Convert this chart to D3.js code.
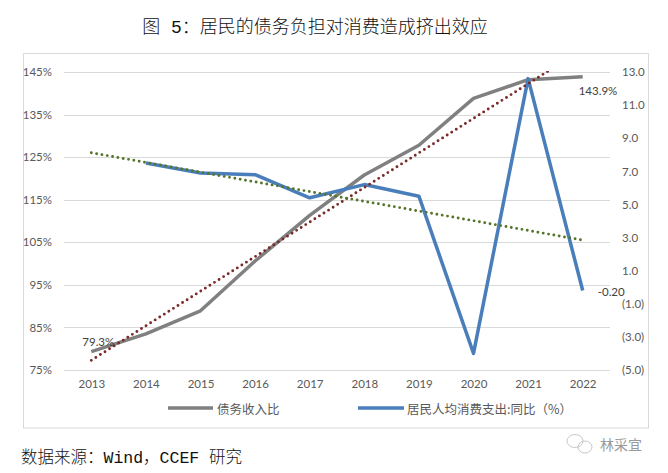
<!DOCTYPE html>
<html><head><meta charset="utf-8">
<script src="https://cdn.jsdelivr.net/npm/d3@7/dist/d3.min.js"></script>
<style>
body{margin:0;background:#fff;}
svg{display:block;}
</style></head>
<body>
<svg id="c" width="668" height="473"></svg>
<script>
const years = ["2013","2014","2015","2016","2017","2018","2019","2020","2021","2022"];
const debtRatio = [79.3, 83.5, 88.9, 100.6, 111.3, 120.8, 127.8, 138.8, 143.2, 143.9];
const consGrowth = [null, 7.5, 6.9, 6.8, 5.4, 6.2, 5.5, -4.0, 12.6, -0.2];
const leftTicks = [75, 85, 95, 105, 115, 125, 135, 145];
const rightTicks = [-5, -3, -1, 1, 3, 5, 7, 9, 11, 13];
const seriesNames = ["债务收入比", "居民人均消费支出:同比（%）"];
const titleText = "图 5：居民的债务负担对消费造成挤出效应";
const sourceText = "数据来源：Wind，CCEF 研究";
const markText = "林采宜";

const svg = d3.select("#c");
const tickFont = "Lato, 'Noto Sans CJK SC', sans-serif";
const cjkFont = "'Liberation Mono', 'Noto Sans CJK SC', monospace";
const textCol = "#595959";

const x = d3.scalePoint().domain(years).range([64, 610]).padding(0.5);
const yL = d3.scaleLinear().domain([75, 145]).range([370, 72]);
const yR = d3.scaleLinear().domain([-5, 13]).range([370, 72]);

// title
svg.append("text").attr("x", 315).attr("y", 28).attr("text-anchor", "middle")
  .attr("dominant-baseline", "central").attr("font-family", cjkFont)
  .attr("font-size", 18).attr("font-weight", 300).attr("fill", "#111").text(titleText);

// chart border
svg.append("rect").attr("x", 23.5).attr("y", 53.5).attr("width", 625).attr("height", 374.5)
  .attr("fill", "none").attr("stroke", "#d9d9d9").attr("stroke-width", 1);

// gridlines
svg.append("g").selectAll("line").data(leftTicks).join("line")
  .attr("x1", 64).attr("x2", 610)
  .attr("y1", d => Math.round(yL(d)) + 0.5).attr("y2", d => Math.round(yL(d)) + 0.5)
  .attr("stroke", "#d9d9d9").attr("stroke-width", 1);

// left axis
const axL = svg.append("g").attr("transform", "translate(64,0)")
  .call(d3.axisLeft(yL).tickValues(leftTicks).tickSize(0).tickPadding(12).tickFormat(d => d + "%"));
axL.select(".domain").remove();
axL.selectAll("text").attr("font-family", tickFont).attr("font-size", 11.5).attr("fill", textCol);

// right axis
const axR = svg.append("g").attr("transform", "translate(622,0)")
  .call(d3.axisRight(yR).tickValues(rightTicks).tickSize(0).tickPadding(0)
    .tickFormat(d => d < 0 ? "(" + Math.abs(d).toFixed(1) + ")" : d.toFixed(1)));
axR.select(".domain").remove();
axR.selectAll("text").attr("font-family", tickFont).attr("font-size", 11.5).attr("fill", textCol);

// x axis
const axX = svg.append("g").attr("transform", "translate(0,378)")
  .call(d3.axisBottom(x).tickSize(0).tickPadding(2));
axX.select(".domain").remove();
axX.selectAll("text").attr("font-family", tickFont).attr("font-size", 11.5).attr("fill", textCol);

// clip
svg.append("clipPath").attr("id", "plotclip").append("rect")
  .attr("x", 64).attr("y", 71).attr("width", 546).attr("height", 300);

// series lines
const lineL = d3.line().x((d, i) => x(years[i])).y(d => yL(d));
const lineR = d3.line().defined(d => d !== null).x((d, i) => x(years[i])).y(d => yR(d));

svg.append("path").datum(debtRatio).attr("d", lineL)
  .attr("fill", "none").attr("stroke", "#808080").attr("stroke-width", 3.5).attr("stroke-linejoin", "round");
svg.append("path").datum(consGrowth).attr("d", lineR)
  .attr("fill", "none").attr("stroke", "#4a7ebb").attr("stroke-width", 3.5).attr("stroke-linejoin", "round");

// linear trendlines (least squares on the series)
function fit(vals) {
  const pts = vals.map((v, i) => [i, v]).filter(p => p[1] !== null);
  const mx = d3.mean(pts, p => p[0]), my = d3.mean(pts, p => p[1]);
  const sxy = d3.sum(pts, p => (p[0] - mx) * (p[1] - my));
  const sxx = d3.sum(pts, p => (p[0] - mx) ** 2);
  const b = sxy / sxx, a = my - b * mx;
  return i => a + b * i;
}
const fL = fit(debtRatio), fR = fit(consGrowth);
const trendL = [[x(years[0]), yL(fL(0))], [x(years[9]), yL(fL(9))]];
const trendR = [[x(years[0]), yR(fR(0))], [x(years[9]), yR(fR(9))]];
svg.append("path").attr("d", d3.line()(trendL)).attr("clip-path", "url(#plotclip)")
  .attr("fill", "none").attr("stroke", "#7b2a2a").attr("stroke-width", 2.9)
  .attr("stroke-linecap", "round").attr("stroke-dasharray", "0,5.4");
svg.append("path").attr("d", d3.line()(trendR)).attr("clip-path", "url(#plotclip)")
  .attr("fill", "none").attr("stroke", "#56752a").attr("stroke-width", 2.9)
  .attr("stroke-linecap", "round").attr("stroke-dasharray", "0,5.4");

// data labels
const lblFont = tickFont;
svg.append("text").attr("x", x(years[0]) + 7).attr("y", yL(debtRatio[0]) - 10)
  .attr("text-anchor", "middle").attr("dominant-baseline", "central")
  .attr("font-family", lblFont).attr("font-size", 11.5).attr("fill", "#404040")
  .text(debtRatio[0].toFixed(1) + "%");
svg.append("text").attr("x", x(years[9]) - 4).attr("y", yL(debtRatio[9]) + 14)
  .attr("text-anchor", "start").attr("dominant-baseline", "central")
  .attr("font-family", lblFont).attr("font-size", 11.5).attr("fill", "#404040")
  .text(debtRatio[9].toFixed(1) + "%");
svg.append("text").attr("x", x(years[9]) + 15).attr("y", yR(consGrowth[9]) + 1)
  .attr("text-anchor", "start").attr("dominant-baseline", "central")
  .attr("font-family", lblFont).attr("font-size", 11.5).attr("fill", "#404040")
  .text(consGrowth[9].toFixed(2));

// legend
const legY = 408;
const leg = [
  {x1: 168, x2: 213, tx: 217, col: "#808080", name: seriesNames[0]},
  {x1: 358, x2: 404, tx: 407, col: "#4a7ebb", name: seriesNames[1]}
];
leg.forEach(l => {
  svg.append("line").attr("x1", l.x1).attr("x2", l.x2).attr("y1", legY).attr("y2", legY)
    .attr("stroke", l.col).attr("stroke-width", 3.5);
  svg.append("text").attr("x", l.tx).attr("y", legY).attr("dominant-baseline", "central")
    .attr("font-family", "'Noto Sans CJK SC', sans-serif").attr("font-size", 12.5)
    .attr("fill", textCol).text(l.name);
});

// source
svg.append("text").attr("x", 21).attr("y", 458).attr("dominant-baseline", "central")
  .attr("font-family", cjkFont).attr("font-size", 16.5).attr("font-weight", 300)
  .attr("fill", "#111").text(sourceText);

// watermark
const wm = svg.append("g").attr("fill", "none").attr("stroke", "#c8c8c8").attr("stroke-width", 1);
wm.append("ellipse").attr("cx", 575).attr("cy", 441).attr("rx", 8).attr("ry", 6.5);
wm.append("ellipse").attr("cx", 585).attr("cy", 447).attr("rx", 7).attr("ry", 6);
svg.append("text").attr("x", 600).attr("y", 444).attr("dominant-baseline", "central")
  .attr("font-family", "'Noto Sans CJK SC', sans-serif").attr("font-size", 14)
  .attr("fill", "#9a9a9a").text(markText);
</script>
</body></html>
